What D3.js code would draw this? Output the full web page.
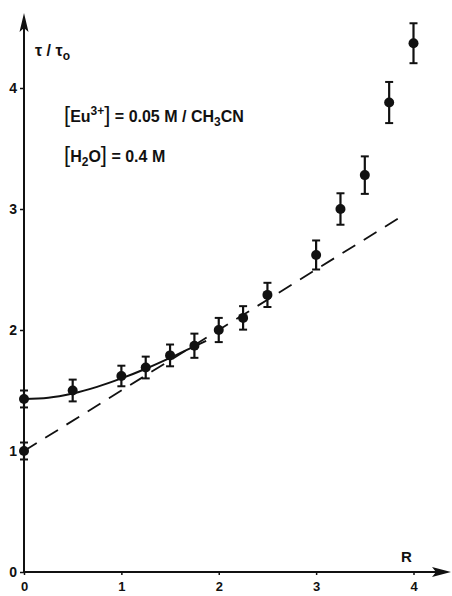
<!DOCTYPE html>
<html><head><meta charset="utf-8">
<script src="https://cdn.jsdelivr.net/npm/d3@7"></script>
<style>
body{margin:0;background:#fff;}
text{font-family:"Liberation Sans",Arial,sans-serif;fill:#111;font-weight:bold;}
</style></head>
<body><svg id="c" width="452" height="596"></svg>
<script>
// Data
const ratioR   = [0, 0, 0.5, 1, 1.25, 1.5, 1.75, 2, 2.25, 2.5, 3, 3.25, 3.5, 3.75, 4];
const tauRatio = [1.0, 1.43, 1.50, 1.62, 1.69, 1.79, 1.87, 2.0, 2.10, 2.29, 2.62, 3.0, 3.28, 3.88, 4.37];
const errBar   = [0.07, 0.07, 0.09, 0.085, 0.09, 0.09, 0.1, 0.1, 0.097, 0.1, 0.12, 0.13, 0.155, 0.17, 0.165];
const curveR   = [0, 0.25, 0.5, 0.75, 1, 1.25, 1.5, 1.75, 1.87];
const curveT   = [1.43, 1.44, 1.475, 1.53, 1.60, 1.68, 1.77, 1.865, 1.91];
const lineR    = [0, 3.88];
const lineT    = [1.0, 2.94];
const xTicks   = [0, 1, 2, 3, 4];
const yTicks   = [0, 1, 2, 3, 4];

const svg = d3.select("#c");
const x = d3.scaleLinear().domain([0, 4]).range([24, 413.5]);
const y = d3.scaleLinear().domain([0, 4]).range([572, 88]);

// axes lines
svg.append("line").attr("x1", x(0)).attr("x2", 440).attr("y1", y(0)).attr("y2", y(0))
  .attr("stroke", "#111").attr("stroke-width", 2);
svg.append("line").attr("x1", x(0)).attr("x2", x(0)).attr("y1", y(0)).attr("y2", 22)
  .attr("stroke", "#111").attr("stroke-width", 2);
// arrow heads
svg.append("path").attr("d", `M${x(0)},13 L${x(0)-4.5},32 L${x(0)},28 L${x(0)+4.5},32 Z`).attr("fill", "#111");
svg.append("path").attr("d", `M451,${y(0)} L432,${y(0)-5} L436,${y(0)} L432,${y(0)+5} Z`).attr("fill", "#111");

// y ticks
const yAxis = d3.axisLeft(y).tickValues(yTicks).tickSize(4).tickPadding(3).tickFormat(d3.format("d"));
const gy = svg.append("g").attr("transform", `translate(${x(0)},0)`).call(yAxis);
gy.select(".domain").remove();
gy.selectAll(".tick line").attr("stroke", "#111").attr("stroke-width", 1.5);
gy.selectAll(".tick text").style("font-size", "14px").attr("fill", "#111");

// x ticks
const xAxis = d3.axisBottom(x).tickValues(xTicks).tickSize(3).tickPadding(7).tickFormat(d3.format("d"));
const gx = svg.append("g").attr("transform", `translate(0,${y(0)})`).call(xAxis);
gx.select(".domain").remove();
gx.selectAll(".tick line").attr("stroke", "#111").attr("stroke-width", 1.5);
gx.selectAll(".tick text").style("font-size", "13px").attr("fill", "#111");

// dashed line
svg.append("path").datum(lineR.map((r, i) => [r, lineT[i]]))
  .attr("d", d3.line().x(d => x(d[0])).y(d => y(d[1])))
  .attr("fill", "none").attr("stroke", "#111").attr("stroke-width", 1.8)
  .attr("stroke-dasharray", "15,10");

// solid fitted curve
svg.append("path").datum(curveR.map((r, i) => [r, curveT[i]]))
  .attr("d", d3.line().x(d => x(d[0])).y(d => y(d[1])).curve(d3.curveMonotoneX))
  .attr("fill", "none").attr("stroke", "#111").attr("stroke-width", 2);

// error bars and points
const pts = ratioR.map((r, i) => ({r, t: tauRatio[i], e: errBar[i]}));
const g = svg.append("g");
g.selectAll(".eb").data(pts).enter().append("line")
  .attr("x1", d => x(d.r)).attr("x2", d => x(d.r))
  .attr("y1", d => y(d.t + d.e)).attr("y2", d => y(d.t - d.e))
  .attr("stroke", "#111").attr("stroke-width", 2.2);
["top", "bot"].forEach(k => {
  g.selectAll(".cap" + k).data(pts).enter().append("line")
    .attr("x1", d => x(d.r) - 4).attr("x2", d => x(d.r) + 4)
    .attr("y1", d => y(k === "top" ? d.t + d.e : d.t - d.e))
    .attr("y2", d => y(k === "top" ? d.t + d.e : d.t - d.e))
    .attr("stroke", "#111").attr("stroke-width", 2);
});
g.selectAll("circle").data(pts).enter().append("circle")
  .attr("cx", d => x(d.r)).attr("cy", d => y(d.t)).attr("r", 5).attr("fill", "#111");

// labels
const yl = svg.append("text").attr("x", 35).attr("y", 56).style("font-size", "16px");
yl.append("tspan").text("τ / τ");
yl.append("tspan").attr("dy", 4).style("font-size", "12px").text("o");

svg.append("text").attr("x", 401).attr("y", 562).style("font-size", "15px").text("R");

const t1 = svg.append("text").attr("x", 64).attr("y", 122).style("font-size", "16px");
t1.append("tspan").style("font-size", "22px").style("font-weight", "normal").text("[");
t1.append("tspan").text("Eu");
t1.append("tspan").attr("dy", -7).style("font-size", "12px").text("3+");
t1.append("tspan").attr("dy", 7).style("font-size", "22px").style("font-weight", "normal").text("]");
t1.append("tspan").text(" = 0.05 M / CH");
t1.append("tspan").attr("dy", 4).style("font-size", "12px").text("3");
t1.append("tspan").attr("dy", -4).text("CN");

const t2 = svg.append("text").attr("x", 64).attr("y", 162).style("font-size", "16px");
t2.append("tspan").style("font-size", "22px").style("font-weight", "normal").text("[");
t2.append("tspan").text("H");
t2.append("tspan").attr("dy", 4).style("font-size", "12px").text("2");
t2.append("tspan").attr("dy", -4).text("O");
t2.append("tspan").style("font-size", "22px").style("font-weight", "normal").text("]");
t2.append("tspan").text(" = 0.4 M");
</script></body></html>
